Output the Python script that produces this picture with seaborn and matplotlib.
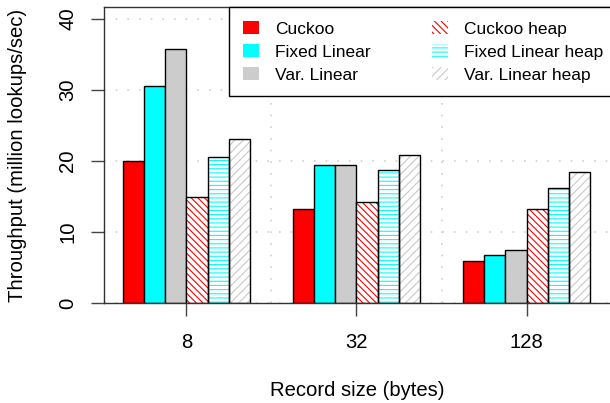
import pandas as pd
import seaborn as sns
import matplotlib.pyplot as plt
from matplotlib.patches import Patch, Rectangle

# values (million lookups/sec)
sizes = ['8', '32', '128']
series = ['Cuckoo', 'Fixed Linear', 'Var. Linear',
          'Cuckoo heap', 'Fixed Linear heap', 'Var. Linear heap']
cuckoo = [20.0, 13.3, 5.9]
fixed_linear = [30.6, 19.4, 6.8]
var_linear = [35.8, 19.5, 7.5]
cuckoo_heap = [15.0, 14.2, 13.2]
fixed_linear_heap = [20.5, 18.7, 16.2]
var_linear_heap = [23.1, 20.9, 18.5]
yticks = [0, 10, 20, 30, 40]

all_values = [cuckoo, fixed_linear, var_linear,
              cuckoo_heap, fixed_linear_heap, var_linear_heap]
rows = []
for name, vals in zip(series, all_values):
    for s, v in zip(sizes, vals):
        rows.append({'size': s, 'series': name, 'value': v})
df = pd.DataFrame(rows)

plt.rcParams['font.family'] = ['Liberation Sans', 'DejaVu Sans']
plt.rcParams['hatch.linewidth'] = 0.8

face_colors = ['#ff0000', '#00ffff', '#cccccc', 'white', 'white', 'white']
hatch_colors = {'Cuckoo heap': '#ff0000',
                'Fixed Linear heap': '#00ffff',
                'Var. Linear heap': '#c8c8c8'}
hatches = {'Cuckoo heap': '\\\\\\\\\\',
           'Fixed Linear heap': '----',
           'Var. Linear heap': '////'}

fig = plt.figure(figsize=(6.1, 4.03), dpi=100)
ax = fig.add_axes([0.1705, 0.2481, 0.8377, 0.7345])

sns.barplot(data=df, x='size', y='value', hue='series', order=sizes,
            hue_order=series, palette=face_colors, width=0.75,
            edgecolor='black', linewidth=1, saturation=1, errorbar=None,
            legend=False, ax=ax)

# hatched bars: hatch in colour, outline in black on top
for name, cont in zip(series, ax.containers):
    if name not in hatches:
        continue
    for bar in cont:
        bar.set_hatch(hatches[name])
        bar.set_edgecolor(hatch_colors[name])
        bar.set_linewidth(0)
        ax.add_patch(Rectangle(bar.get_xy(), bar.get_width(), bar.get_height(),
                               fill=False, edgecolor='black', linewidth=1,
                               zorder=bar.get_zorder() + 0.1))

ax.set_xlim(-0.4845, 2.52)
ax.set_ylim(0, 41.69)
ax.set_yticks(yticks)
ax.set_xticks([0.5, 1.5], minor=True)

# dotted grid like R's grid()
ax.set_axisbelow(True)
ax.grid(axis='y', which='major', color='#cfcfcf', linestyle=(0, (1, 6)), linewidth=1.2)
ax.grid(axis='x', which='minor', color='#cfcfcf', linestyle=(0, (1, 6)), linewidth=1.2)
ax.grid(axis='x', which='major', visible=False)

ax.tick_params(axis='both', which='major', length=9.4, width=1, color='#444444',
               labelsize=14.6, direction='out')
ax.tick_params(axis='y', pad=10)
ax.tick_params(axis='x', pad=12)
ax.tick_params(axis='x', which='minor', length=0)
for lbl in ax.get_yticklabels():
    lbl.set_rotation(90)
    lbl.set_va('center')

for side in ['left', 'top', 'bottom']:
    ax.spines[side].set_color('#333333')
    ax.spines[side].set_linewidth(1)
ax.spines['right'].set_visible(False)

ax.set_xlabel('Record size (bytes)', fontsize=14.6)
ax.set_ylabel('Throughput (million lookups/sec)', fontsize=14.6)
ax.xaxis.set_label_coords(0.496, -0.262)
ax.yaxis.set_label_coords(-0.151, 0.5)

handles = []
for name, col in zip(series, face_colors):
    if name in hatches:
        handles.append(Patch(facecolor='white', edgecolor=hatch_colors[name],
                             linewidth=0, hatch=hatches[name], label=name))
    else:
        handles.append(Patch(facecolor=col, edgecolor='none', label=name))

leg = ax.legend(handles=handles, ncol=2, loc='upper left',
                bbox_to_anchor=(0.2446, 1.0), borderaxespad=0,
                fontsize=12.5, handlelength=0.92, handleheight=0.8,
                handletextpad=0.92, columnspacing=3.57, labelspacing=0.42,
                borderpad=0.8, fancybox=False, framealpha=1,
                edgecolor='black')
leg.get_frame().set_linewidth(1)

fig.savefig('out.png', dpi=100)
